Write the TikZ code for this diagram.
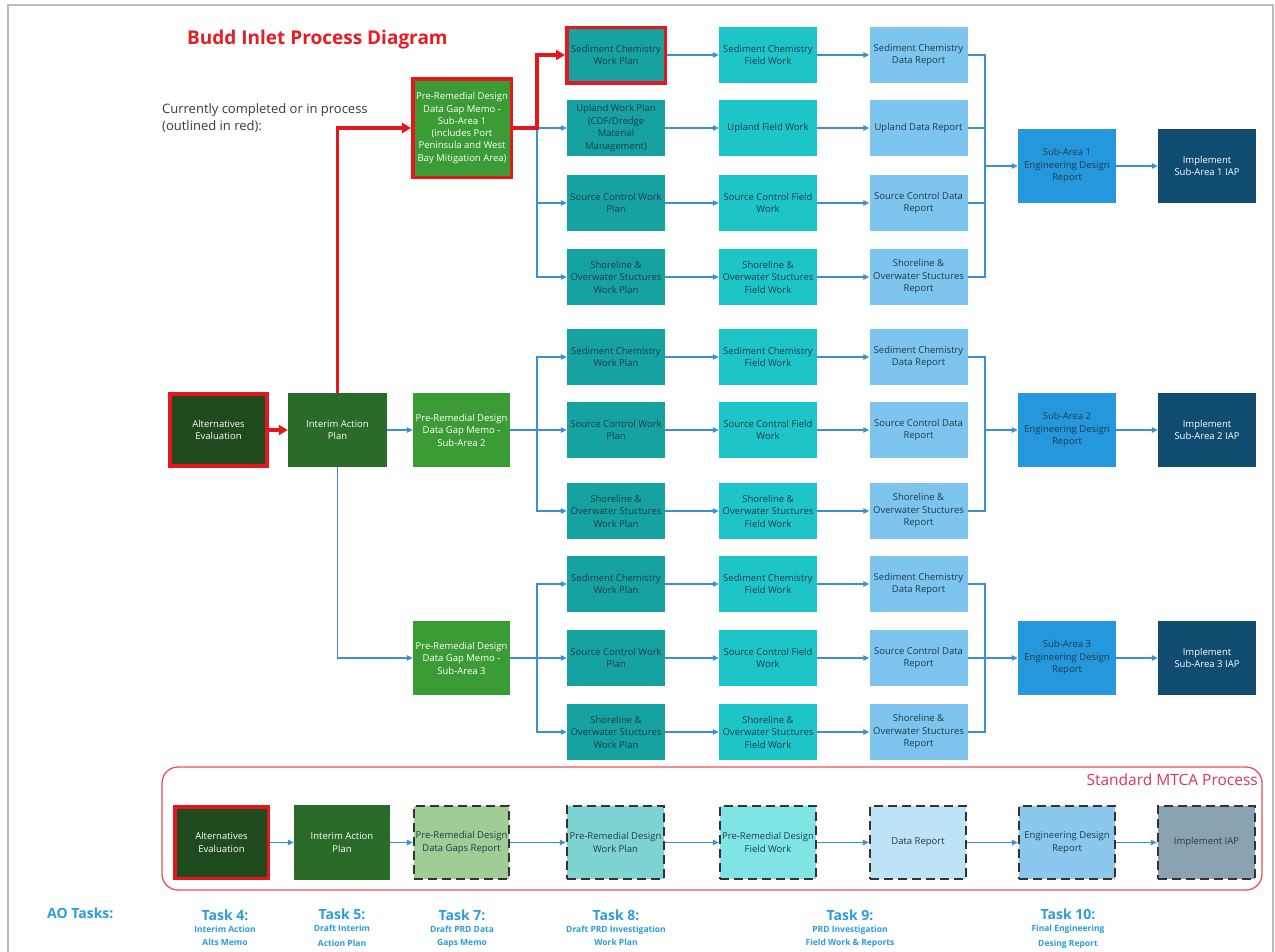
\documentclass[tikz,border=0pt]{standalone}
\usepackage{fontspec}
\setmainfont{Open Sans}
\usetikzlibrary{arrows.meta}
\definecolor{cred}{HTML}{E5161E}
\definecolor{ctitle}{HTML}{E31E24}
\definecolor{calt}{HTML}{1E4A1E}
\definecolor{cint}{HTML}{2A6B2A}
\definecolor{cmemo}{HTML}{3B9B35}
\definecolor{cwp}{HTML}{16A2A1}
\definecolor{cfw}{HTML}{1DC5C9}
\definecolor{cdr}{HTML}{7DC5EE}
\definecolor{ceng}{HTML}{2598DD}
\definecolor{cimp}{HTML}{0F4C70}
\definecolor{ctxt}{HTML}{1D3C4A}
\definecolor{cblue}{HTML}{3B8FD4}
\definecolor{cmtca}{HTML}{E8515F}
\definecolor{cmtcat}{HTML}{E0345C}
\definecolor{ctask}{HTML}{2D9CDB}
\definecolor{cgap}{HTML}{A0CD96}
\definecolor{cwpl}{HTML}{7FD3D3}
\definecolor{cfwl}{HTML}{7FE4E4}
\definecolor{cdrl}{HTML}{BEE3F7}
\definecolor{cengl}{HTML}{8CC8EE}
\definecolor{cimpl}{HTML}{8AA3B2}
\definecolor{cframe}{HTML}{BBBBBB}
\definecolor{cgray}{HTML}{3A3A3A}
\newcommand\bxf{\fontsize{9.5}{12.5}\selectfont}
\begin{document}
\begin{tikzpicture}[x=1pt,y=-1pt,
  pbox/.style={rectangle, inner sep=0pt, align=center, font=\bxf, text=ctxt, minimum width=98pt, minimum height=56pt},
  bigbox/.style={pbox, minimum height=74pt},
  wpbox/.style={pbox, fill=cwp},
  fwbox/.style={pbox, fill=cfw},
  drbox/.style={pbox, fill=cdr},
  engbox/.style={bigbox, fill=ceng},
  impbox/.style={bigbox, fill=cimp, text=white},
  memobox/.style={bigbox, fill=cmemo, text=white},
  intbox/.style={bigbox, fill=cint, text=white},
  altbox/.style={bigbox, fill=calt, text=white},
  redout/.style={draw=cred, line width=3.5pt},
  dsh/.style={draw=black!80, line width=2.5pt, dash pattern=on 9pt off 5pt},
  bla/.style={draw=cblue, line width=1.1pt, -{Triangle[length=6pt,width=5.5pt]}},
  bln/.style={draw=cblue, line width=1.1pt},
  rda/.style={draw=cred, line width=3.5pt, -{Triangle[length=9pt,width=10pt]}},
  taskh/.style={font=\bfseries\fontsize{14}{16}\selectfont, text=ctask},
  tasks/.style={font=\bfseries\fontsize{8.5}{13}\selectfont, text=ctask, align=center, inner sep=0pt}
]
\useasboundingbox (0,0) rectangle (1275,951);
\fill[white] (0,0) rectangle (1275,951);
\draw[cframe, line width=2pt] (8,955) -- (8,5) -- (1273,5) -- (1273,955);

% title and notes
\node[font=\bfseries\fontsize{19}{21}\selectfont, text=ctitle, anchor=west, inner sep=0pt] (title) at (187,40) {Budd Inlet Process Diagram};
\node[font=\fontsize{13}{17}\selectfont, text=cgray, anchor=north west, align=left, inner sep=0pt] (note) at (162,103) {Currently completed or in process\\(outlined in red):};

% left column
\node[altbox, redout, minimum width=97pt, minimum height=72pt] (alt) at (218.5,430) {Alternatives\\Evaluation};
\node[intbox, minimum width=99pt] (int) at (337.5,430) {Interim Action\\Plan};
\node[memobox, redout, minimum width=98.5pt, minimum height=98.5pt, font=\fontsize{9.5}{12.3}\selectfont] (memo1) at (462,128) {Pre-Remedial Design\\Data Gap Memo -\\Sub-Area 1\\(includes Port\\Peninsula and West\\Bay Mitigation Area)};
\node[memobox, minimum width=97pt] (memo2) at (461.5,430) {Pre-Remedial Design\\Data Gap Memo -\\Sub-Area 2};
\node[memobox, minimum width=97pt] (memo3) at (461.5,658) {Pre-Remedial Design\\Data Gap Memo -\\Sub-Area 3};

% sub-area 1
\node[wpbox, redout, minimum width=98.5pt, minimum height=55.5pt] (sc1) at (616,55) {Sediment Chemistry\\Work Plan};
\node[wpbox] (up1) at (616,128) {Upland Work Plan\\(CDF/Dredge\\Material\\Management)};
\node[wpbox] (so1) at (616,203) {Source Control Work\\Plan};
\node[wpbox] (sh1) at (616,277) {Shoreline \&\\Overwater Stuctures\\Work Plan};
\node[fwbox] (scf1) at (768,55) {Sediment Chemistry\\Field Work};
\node[fwbox] (upf1) at (768,128) {Upland Field Work};
\node[fwbox] (sof1) at (768,203) {Source Control Field\\Work};
\node[fwbox] (shf1) at (768,277) {Shoreline \&\\Overwater Stuctures\\Field Work};
\node[drbox] (scd1) at (918.5,55) {Sediment Chemistry\\Data Report};
\node[drbox] (upd1) at (918.5,128) {Upland Data Report};
\node[drbox] (sod1) at (918.5,203) {Source Control Data\\Report};
\node[drbox] (shd1) at (918.5,277) {Shoreline \&\\Overwater Stuctures\\Report};
\node[engbox] (eng1) at (1067,166) {Sub-Area 1\\Engineering Design\\Report};
\node[impbox] (imp1) at (1207,166) {Implement\\Sub-Area 1 IAP};

% sub-area 2
\node[wpbox] (sc2) at (616,357) {Sediment Chemistry\\Work Plan};
\node[wpbox] (so2) at (616,430) {Source Control Work\\Plan};
\node[wpbox] (sh2) at (616,511) {Shoreline \&\\Overwater Stuctures\\Work Plan};
\node[fwbox] (scf2) at (768,357) {Sediment Chemistry\\Field Work};
\node[fwbox] (sof2) at (768,430) {Source Control Field\\Work};
\node[fwbox] (shf2) at (768,511) {Shoreline \&\\Overwater Stuctures\\Field Work};
\node[drbox] (scd2) at (918.5,357) {Sediment Chemistry\\Data Report};
\node[drbox] (sod2) at (918.5,430) {Source Control Data\\Report};
\node[drbox] (shd2) at (918.5,511) {Shoreline \&\\Overwater Stuctures\\Report};
\node[engbox] (eng2) at (1067,430) {Sub-Area 2\\Engineering Design\\Report};
\node[impbox] (imp2) at (1207,430) {Implement\\Sub-Area 2 IAP};

% sub-area 3
\node[wpbox] (sc3) at (616,584) {Sediment Chemistry\\Work Plan};
\node[wpbox] (so3) at (616,658) {Source Control Work\\Plan};
\node[wpbox] (sh3) at (616,732) {Shoreline \&\\Overwater Stuctures\\Work Plan};
\node[fwbox] (scf3) at (768,584) {Sediment Chemistry\\Field Work};
\node[fwbox] (sof3) at (768,658) {Source Control Field\\Work};
\node[fwbox] (shf3) at (768,732) {Shoreline \&\\Overwater Stuctures\\Field Work};
\node[drbox] (scd3) at (918.5,584) {Sediment Chemistry\\Data Report};
\node[drbox] (sod3) at (918.5,658) {Source Control Data\\Report};
\node[drbox] (shd3) at (918.5,732) {Shoreline \&\\Overwater Stuctures\\Report};
\node[engbox] (eng3) at (1067,658) {Sub-Area 3\\Engineering Design\\Report};
\node[impbox] (imp3) at (1207,658) {Implement\\Sub-Area 3 IAP};

% branch / merge points
\coordinate (br1) at (537,128);
\coordinate (br2) at (537,430);
\coordinate (br3) at (537,658);
\coordinate (mg1) at (985,166);
\coordinate (mg2) at (985,430);
\coordinate (mg3) at (985,658);

% blue connectors
\draw[bla] (int.east) -- (memo2.west);
\draw[bla] (int.south) |- (memo3.west);
\draw[bla] (br1) -- (up1.west);
\draw[bla] (br1) |- (so1.west);
\draw[bla] (br1) |- (sh1.west);
\draw[bln] (memo2.east) -- (br2);
\draw[bla] (br2) |- (sc2.west);
\draw[bla] (br2) -- (so2.west);
\draw[bla] (br2) |- (sh2.west);
\draw[bln] (memo3.east) -- (br3);
\draw[bla] (br3) |- (sc3.west);
\draw[bla] (br3) -- (so3.west);
\draw[bla] (br3) |- (sh3.west);
\foreach \r in {1,2,3}{
  \draw[bla] (sc\r.east) -- (scf\r.west);
  \draw[bla] (scf\r.east) -- (scd\r.west);
  \draw[bla] (so\r.east) -- (sof\r.west);
  \draw[bla] (sof\r.east) -- (sod\r.west);
  \draw[bla] (sh\r.east) -- (shf\r.west);
  \draw[bla] (shf\r.east) -- (shd\r.west);
  \draw[bln] (scd\r.east) -| (mg\r);
  \draw[bln] (shd\r.east) -| (mg\r);
  \draw[bla] (mg\r) -- (eng\r.west);
  \draw[bla] (eng\r.east) -- (imp\r.west);
}
\draw[bla] (up1.east) -- (upf1.west);
\draw[bla] (upf1.east) -- (upd1.west);
\draw[bln] (upd1.east) -- (upd1.east -| mg1);
\draw[bln] (sod1.east) -- (sod1.east -| mg1);
\draw[bln] (sod3.east) -- (sod3.east -| mg3);

% red connectors
\draw[rda] (alt.east) -- (int.west);
\draw[rda] (int.north) |- (memo1.west);
\draw[rda] (memo1.east) -- (br1) |- (sc1.west);

% standard MTCA process
\node[draw=cmtca, line width=1.3pt, rounded corners=16pt, minimum width=1100pt, minimum height=123pt, inner sep=0pt] (mtca) at (712,828.5) {};
\node[font=\fontsize{15.5}{18}\selectfont, text=cmtcat, anchor=east, inner sep=0pt] (mtcal) at (1258,780) {Standard MTCA Process};
\node[altbox, redout, minimum width=93.5pt, minimum height=71.5pt] (s1) at (221.5,842.5) {Alternatives\\Evaluation};
\node[intbox, minimum width=96pt, minimum height=75pt] (s2) at (342,842.5) {Interim Action\\Plan};
\node[pbox, fill=cgap, dsh, minimum width=95pt, minimum height=73pt] (s3) at (461.5,842.5) {Pre-Remedial Design\\Data Gaps Report};
\node[pbox, fill=cwpl, dsh, minimum width=97pt, minimum height=73pt] (s4) at (615.5,842.5) {Pre-Remedial Design\\Work Plan};
\node[pbox, fill=cfwl, dsh, minimum width=96pt, minimum height=73pt] (s5) at (768,842.5) {Pre-Remedial Design\\Field Work};
\node[pbox, fill=cdrl, dsh, minimum width=96pt, minimum height=73pt] (s6) at (918,842.5) {Data Report};
\node[pbox, fill=cengl, dsh, minimum width=96pt, minimum height=73pt] (s7) at (1067,842.5) {Engineering Design\\Report};
\node[pbox, fill=cimpl, dsh, minimum width=97pt, minimum height=73pt] (s8) at (1206.5,842.5) {Implement IAP};
\draw[bla] (s1.east) -- (s2.west);
\draw[bla] (s2.east) -- (s3.west);
\draw[bla] (s3.east) -- (s4.west);
\draw[bla] (s4.east) -- (s5.west);
\draw[bla] (s5.east) -- (s6.west);
\draw[bla] (s6.east) -- (s7.west);
\draw[bla] (s7.east) -- (s8.west);

% AO tasks
\node[taskh, anchor=west, inner sep=0pt] (ao) at (47,913) {AO Tasks:};
\node[taskh, inner sep=0pt] (t4) at (225,915) {Task 4:};
\node[tasks, anchor=north] (t4s) at (225,926) {Interim Action\\Alts Memo};
\node[taskh, inner sep=0pt] (t5) at (342,914) {Task 5:};
\node[tasks, anchor=north, font=\bfseries\fontsize{8.5}{15}\selectfont] (t5s) at (342,925) {Draft Interim\\Action Plan};
\node[taskh, inner sep=0pt] (t7) at (462,915) {Task 7:};
\node[tasks, anchor=north] (t7s) at (462,926) {Draft PRD Data\\Gaps Memo};
\node[taskh, inner sep=0pt] (t8) at (616,915) {Task 8:};
\node[tasks, anchor=north] (t8s) at (616,926) {Draft PRD Investigation\\Work Plan};
\node[taskh, inner sep=0pt] (t9) at (850,915) {Task 9:};
\node[tasks, anchor=north] (t9s) at (850,926) {PRD Investigation\\Field Work \& Reports};
\node[taskh, inner sep=0pt] (t10) at (1068,914) {Task 10:};
\node[tasks, anchor=north, font=\bfseries\fontsize{8.5}{15}\selectfont] (t10s) at (1068,925) {Final Engineering\\Desing Report};
\end{tikzpicture}
\end{document}
